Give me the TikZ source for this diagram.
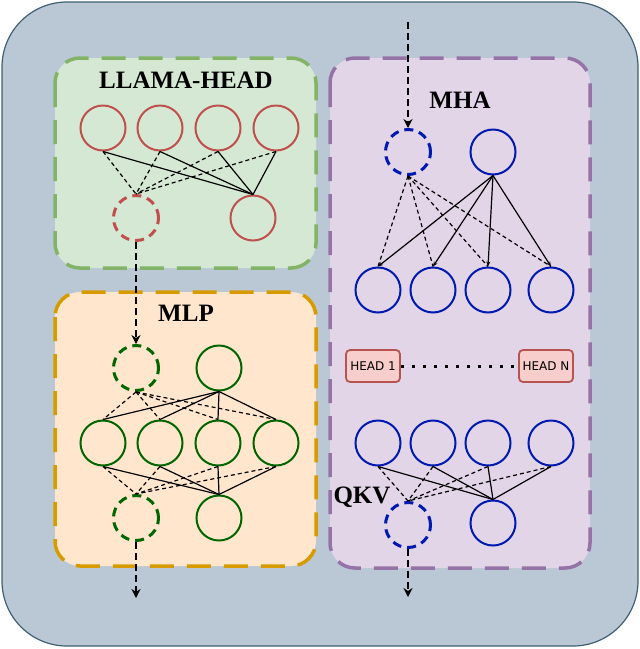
\documentclass[tikz,border=0pt]{standalone}
\usepackage{fontspec}
\newfontfamily\headfont{DejaVu Sans}
\newfontfamily\titfont{Liberation Serif}
\usetikzlibrary{arrows.meta}
\definecolor{bgc}{HTML}{B9C8D4}
\definecolor{bgb}{HTML}{3F5F75}
\definecolor{gfill}{HTML}{D5E8D4}\definecolor{gline}{HTML}{82B366}
\definecolor{ofill}{HTML}{FFE6CC}\definecolor{oline}{HTML}{D79B00}
\definecolor{pfill}{HTML}{E1D5E7}\definecolor{pline}{HTML}{9673A6}
\definecolor{rc}{HTML}{C0504D}\definecolor{gc}{HTML}{006600}\definecolor{bc}{HTML}{0019B0}
\definecolor{hfill}{HTML}{F8CECC}\definecolor{hline}{HTML}{B85450}
\tikzset{
 panel/.style={line width=3.5pt,dash pattern=on 24pt off 13pt,rounded corners=25pt},
 neu/.style={circle,draw=#1,line width=2pt,minimum size=45pt,inner sep=0pt},
 dneu/.style={neu=#1,dash pattern=on 9pt off 6pt,line width=3pt},
 title/.style={font=\titfont\bfseries\fontsize{25}{25}\selectfont},
 sl/.style={black,line width=1.2pt},
 dl/.style={black,line width=1.2pt,dash pattern=on 4pt off 3pt},
 flow/.style={black,line width=2.2pt,dash pattern=on 7pt off 4pt,-{Stealth[length=9pt,width=9pt]}},
 head/.style={draw=hline,fill=hfill,line width=1.8pt,rounded corners=4pt,minimum width=54pt,minimum height=32pt,font=\headfont\fontsize{12}{12}\selectfont,inner sep=1pt}
}
\begin{document}
\begin{tikzpicture}[x=1pt,y=-1pt]
\useasboundingbox (0,0) rectangle (640,649);
\draw[fill=bgc,draw=bgb,line width=1.2pt,rounded corners=65pt] (2,2) rectangle (638,646);
% panels
\draw[panel,fill=gfill,draw=gline] (55,58) rectangle (316,268);
\draw[panel,fill=ofill,draw=oline] (55,292) rectangle (316,566);
\draw[panel,fill=pfill,draw=pline] (330,58) rectangle (590,568);
\node[title] (t1) at (186,80) {LLAMA-HEAD};
\node[title] (t2) at (186,313) {MLP};
\node[title] (t3) at (460,100) {MHA};
\node[title] (t4) at (362,497) {QKV};
% LLAMA head
\foreach \i/\x in {1/103,2/160,3/218,4/276}{\node[neu=rc] (l\i) at (\x,128) {};}
\node[dneu=rc] (ld) at (136,218) {};
\node[neu=rc] (ls) at (253,218) {};
\foreach \i in {1,...,4}{\draw[sl] (l\i.south) -- (ls.north); \draw[dl] (l\i.south) -- (ld.north);}
% MLP
\node[dneu=gc] (md) at (136,368) {};
\node[neu=gc] (ms) at (219,368) {};
\foreach \i/\x in {1/103,2/160,3/218,4/276}{\node[neu=gc] (m\i) at (\x,443) {};}
\node[dneu=gc] (bd) at (136,518) {};
\node[neu=gc] (bs) at (219,518) {};
\foreach \i in {1,...,4}{
 \draw[sl] (ms.south) -- (m\i.north); \draw[dl] (md.south) -- (m\i.north);
 \draw[sl] (m\i.south) -- (bs.north); \draw[dl] (m\i.south) -- (bd.north);}
\coordinate (mend) at (136,598);
\draw[flow] (ld.south) -- (md.north);
\draw[flow] (bd.south) -- (mend);
% MHA
\coordinate (mstart) at (408,22);
\node[dneu=bc,minimum height=42pt] (hd) at (408,152) {};
\node[neu=bc,minimum height=42pt] (hs) at (493,152) {};
\foreach \i/\x in {1/378,2/433,3/488,4/551}{
 \node[neu=bc,minimum height=42pt] (a\i) at (\x,290) {};
 \node[neu=bc,minimum height=42pt] (b\i) at (\x,443) {};}
\node[dneu=bc,minimum height=42pt] (qd) at (408,525) {};
\node[neu=bc,minimum height=42pt] (qs) at (493,523) {};
\foreach \i in {1,...,4}{
 \draw[sl,-{Stealth[length=5pt,width=4pt]}] (hs.south) -- (a\i.north);
 \draw[dl] (hd.south) -- (a\i.north);
 \draw[sl] (b\i.south) -- (qs.north); \draw[dl] (b\i.south) -- (qd.north);}
\node[head] (h1) at (373,366) {HEAD 1};
\node[head] (hn) at (546,366) {HEAD N};
\draw[black,line width=3pt,dash pattern=on 3pt off 8pt] (h1.east) -- (hn.west);
\coordinate (qend) at (408,597);
\draw[flow] (mstart) -- (hd.north);
\draw[flow] (qd.south) -- (qend);
\end{tikzpicture}
\end{document}
